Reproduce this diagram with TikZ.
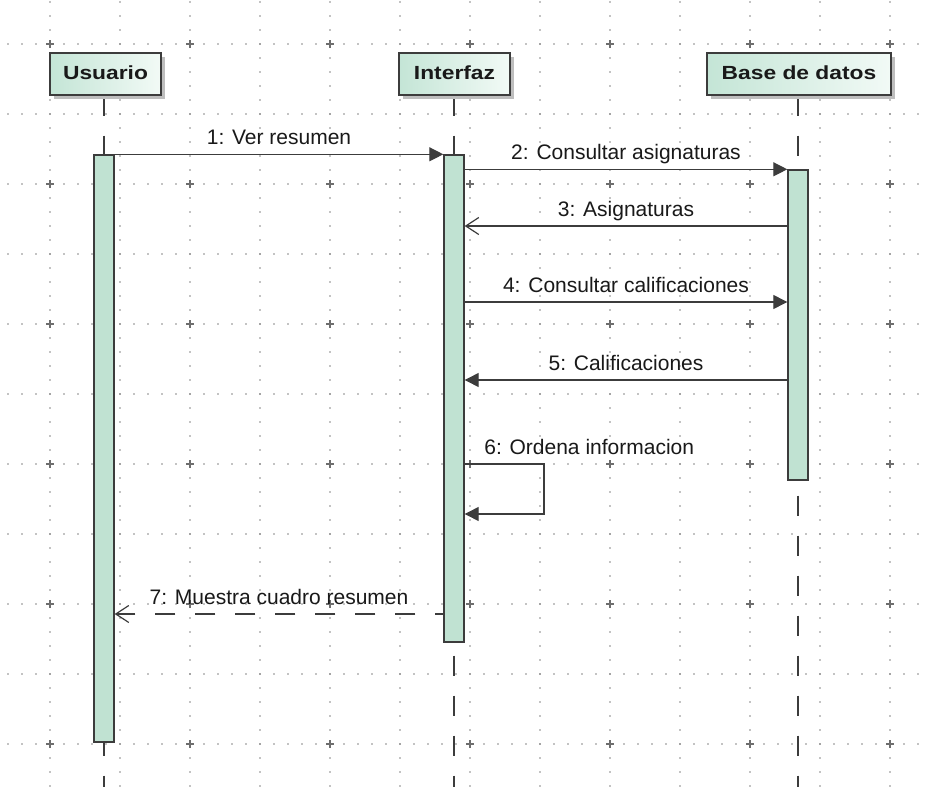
\documentclass[tikz,border=0pt]{standalone}
\usepackage{fontspec}
\setmainfont{Liberation Sans}
\newfontfamily\hdrfont[FakeStretch=1.2]{Liberation Sans Bold}
\usetikzlibrary{arrows.meta,calc,shadows}
\definecolor{linec}{RGB}{60,60,60}
\definecolor{txt}{RGB}{25,25,25}
\definecolor{actc}{RGB}{192,226,210}
\definecolor{hdrL}{RGB}{196,229,214}
\definecolor{hdrR}{RGB}{242,250,246}
\definecolor{shadowc}{RGB}{190,190,190}
\definecolor{dotc}{RGB}{135,135,135}
\definecolor{plusc}{RGB}{110,110,110}
\pgfdeclarelayer{grid}
\pgfdeclarelayer{life}
\pgfsetlayers{grid,life,main}
\tikzset{
  griddot/.style={draw=dotc, line width=1.7pt, line cap=round, dash pattern=on 0pt off 14pt},
  gridplus/.style={draw=plusc, line width=1.3pt},
  hdr/.style={draw=linec, line width=1.4pt, left color=hdrL, right color=hdrR,
    font=\hdrfont\fontsize{19}{22}\selectfont, text=txt, minimum height=42pt, inner sep=0pt,
    drop shadow={shadow xshift=4pt, shadow yshift=-4pt, fill=shadowc, opacity=1}},
  act/.style={draw=linec, line width=1.4pt, fill=actc, minimum width=20pt, inner sep=0pt},
  lifeline/.style={draw=linec, line width=1.3pt, dash pattern=on 20pt off 20pt},
  msg/.style={draw=linec, line width=1.3pt},
  filledtip/.style={-{Triangle[length=14pt,width=14pt]}},
  opentip/.style={-{Straight Barb[length=13pt,width=17pt,line width=1.2pt]}},
  retdash/.style={dash pattern=on 20pt off 20pt, dash phase=12pt},
  lbl/.style={midway, anchor=base, yshift=10pt, inner sep=0pt, text=txt,
    font=\fontsize{21}{25}\selectfont}
}
\begin{document}
\begin{tikzpicture}[x=1pt,y=-1pt]
\useasboundingbox (0,0) rectangle (930,787);
\begin{pgfonlayer}{grid}
  \fill[white] (0,0) rectangle (930,787);
  \foreach \i in {0,...,12} \draw[griddot] (50+70*\i,2) -- (50+70*\i,787);
  \foreach \j in {0,...,10} \draw[griddot] (8,44+70*\j) -- (930,44+70*\j);
  \foreach \i in {0,...,6} \foreach \j in {0,...,5}
    \draw[gridplus] (50+140*\i-4,44+140*\j) -- ++(8,0) (50+140*\i,44+140*\j-4) -- ++(0,8);
\end{pgfonlayer}

% headers
\node[hdr, minimum width=111pt] (usr) at (105.5,74) {\raisebox{2pt}{Usuario}};
\node[hdr, minimum width=111pt] (itf) at (454.5,74) {\raisebox{2pt}{Interfaz}};
\node[hdr, minimum width=184pt] (bd) at (799,74) {\raisebox{2pt}{Base de datos}};

% activations
\node[act, minimum height=587pt] (aU) at (104,448.5) {};
\node[act, minimum height=487pt] (aI) at (454,398.5) {};
\node[act, minimum height=310pt] (aB) at (798,325) {};

\coordinate (bot) at (0,787);
\begin{pgfonlayer}{life}
  \draw[lifeline] (aU |- usr.south) -- (aU |- bot);
  \draw[lifeline] (aI |- itf.south) -- (aI |- bot);
  \draw[lifeline] (aB |- bd.south) -- (aB |- bot);
\end{pgfonlayer}

% message rows
\coordinate (y3) at (0,226);
\coordinate (y4) at (0,302);
\coordinate (y5) at (0,380);
\coordinate (y6) at (0,464);
\coordinate (y6b) at (0,514);
\coordinate (s6) at (544,0);
\coordinate (y7) at (0,614);

\draw[msg, filledtip] (aU.north east) -- node[lbl]{1: Ver resumen} (aI.north west);
\draw[msg, filledtip] (aI.east |- aB.north) -- node[lbl]{2: Consultar asignaturas} (aB.north west);
\draw[msg, opentip] (aB.west |- y3) -- node[lbl]{3: Asignaturas} (aI.east |- y3);
\draw[msg, filledtip] (aI.east |- y4) -- node[lbl]{4: Consultar calificaciones} (aB.west |- y4);
\draw[msg, filledtip] (aB.west |- y5) -- node[lbl]{5: Calificaciones} (aI.east |- y5);
\draw[msg, filledtip] (aI.east |- y6)
  -- node[pos=0, anchor=base west, xshift=19pt, yshift=10pt, inner sep=0pt, text=txt,
          font=\fontsize{21}{25}\selectfont]{6: Ordena informacion} (s6 |- y6)
  -- (s6 |- y6b) -- (aI.east |- y6b);
\draw[msg, retdash, opentip] (aI.west |- y7) -- node[lbl]{7: Muestra cuadro resumen} (aU.east |- y7);
\end{tikzpicture}
\end{document}
